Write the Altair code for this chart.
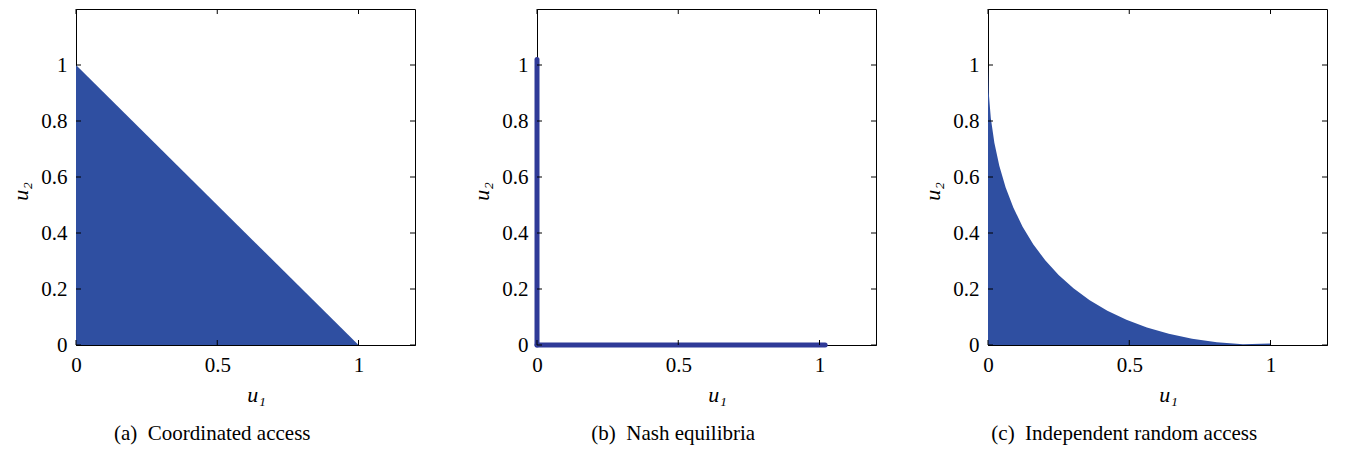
import altair as alt
import pandas as pd

# ---- data ----
# (a) coordinated access: triangle boundary
coord_u1 = [0.0, 1.0]
coord_u2 = [1.0, 0.0]

# (b) Nash equilibria: two segments on the axes
nash_seg = ["vertical", "vertical", "horizontal", "horizontal"]
nash_u1 = [0.0, 0.0, 0.0, 1.02]
nash_u2 = [1.02, 0.0, 0.0, 0.0]

# (c) independent random access: boundary of the region
rand_u1 = [0.0, 0.0025, 0.01, 0.0225, 0.04, 0.0625, 0.09, 0.1225, 0.16, 0.2025,
           0.25, 0.3025, 0.36, 0.4225, 0.49, 0.5625, 0.64, 0.7225, 0.81, 0.9025, 1.0]
rand_u2 = [1.0, 0.9025, 0.81, 0.7225, 0.64, 0.5625, 0.49, 0.4225, 0.36, 0.3025,
           0.25, 0.2025, 0.16, 0.1225, 0.09, 0.0625, 0.04, 0.0225, 0.01, 0.0025, 0.005]

x_ticks = [0.0, 0.5, 1.0]
y_ticks = [0.0, 0.2, 0.4, 0.6, 0.8, 1.0]
captions = ["(a)\u00a0\u00a0Coordinated access", "(b)\u00a0\u00a0Nash equilibria",
            "(c)\u00a0\u00a0Independent random access"]

FILL = "#2f4fa1"
LINE = "#2f3a98"
FONT = "'Liberation Serif', 'Times New Roman', 'DejaVu Serif', serif"
W, H = 339, 336
TL = 5

xscale = alt.Scale(domain=[0, 1.2], nice=False, zero=False)
yscale = alt.Scale(domain=[0, 1.2], nice=False, zero=False)

xaxis = alt.Axis(values=x_ticks, title="u₁", format="~g", labelFlush=False)
yaxis = alt.Axis(values=y_ticks, title="u₂", format="~g", labelFlush=False)

xt = pd.DataFrame({"t": x_ticks})
yt = pd.DataFrame({"t": y_ticks})


def tick_layers():
    xb = alt.Chart(xt).mark_rule(color="black", strokeWidth=1).encode(
        x=alt.X("t:Q", scale=xscale, axis=xaxis), y=alt.value(H), y2=alt.value(H - TL))
    xtop = alt.Chart(xt).mark_rule(color="black", strokeWidth=1).encode(
        x=alt.X("t:Q", scale=xscale, axis=xaxis), y=alt.value(0), y2=alt.value(TL))
    yl = alt.Chart(yt).mark_rule(color="black", strokeWidth=1).encode(
        y=alt.Y("t:Q", scale=yscale, axis=yaxis), x=alt.value(0), x2=alt.value(TL))
    yr = alt.Chart(yt).mark_rule(color="black", strokeWidth=1).encode(
        y=alt.Y("t:Q", scale=yscale, axis=yaxis), x=alt.value(W), x2=alt.value(W - TL))
    return [xb, xtop, yl, yr]


def panel(main, caption):
    return alt.layer(main, *tick_layers()).properties(
        width=W, height=H,
        title=alt.TitleParams(caption, orient="bottom", font=FONT, fontSize=21,
                              fontWeight="normal", color="black", offset=18,
                              anchor="middle", frame="bounds"),
    )


df_a = pd.DataFrame({"u1": coord_u1, "u2": coord_u2})
a_main = alt.Chart(df_a).mark_area(color=FILL, opacity=1).encode(
    x=alt.X("u1:Q", scale=xscale, axis=xaxis),
    y=alt.Y("u2:Q", scale=yscale, axis=yaxis),
    y2=alt.datum(0),
)

df_b = pd.DataFrame({"seg": nash_seg, "u1": nash_u1, "u2": nash_u2})
b_main = alt.Chart(df_b).mark_line(color=LINE, strokeWidth=5, strokeCap="round").encode(
    x=alt.X("u1:Q", scale=xscale, axis=xaxis),
    y=alt.Y("u2:Q", scale=yscale, axis=yaxis),
    detail="seg:N",
)

df_c = pd.DataFrame({"u1": rand_u1, "u2": rand_u2})
c_main = alt.Chart(df_c).mark_area(color=FILL, opacity=1).encode(
    x=alt.X("u1:Q", scale=xscale, axis=xaxis),
    y=alt.Y("u2:Q", scale=yscale, axis=yaxis),
    y2=alt.datum(0),
)

chart = alt.hconcat(
    alt.hconcat(panel(a_main, captions[0]), panel(b_main, captions[1]), spacing=53),
    panel(c_main, captions[2]),
    spacing=43,
).properties(padding={"left": 0, "top": 0, "right": 0, "bottom": 0}).configure_view(
    stroke="black", strokeWidth=1
).configure_axis(
    domainColor="black", labelColor="black", titleColor="black",
    ticks=False, grid=False,
    labelFont=FONT, labelFontSize=21, labelPadding=9,
    titleFont=FONT, titleFontSize=22, titleFontStyle="italic", titleFontWeight="normal",
).configure_axisX(
    titlePadding=9, titleX=180,
).configure_axisY(
    minExtent=38, maxExtent=38, titlePadding=6, titleY=182,
)

chart.save("out.html", embed_options={"renderer": "svg", "actions": False})
